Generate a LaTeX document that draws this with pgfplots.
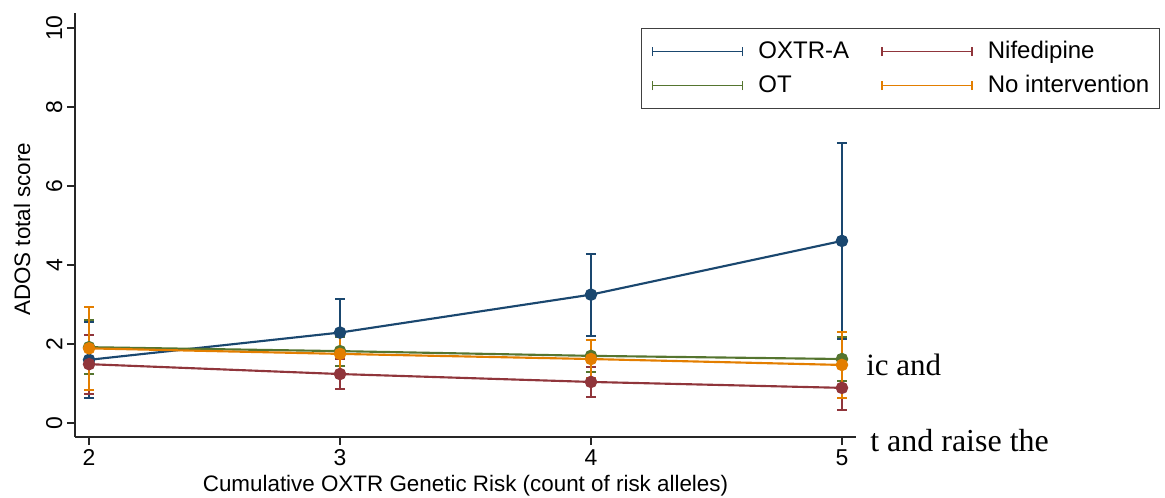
\documentclass[border=0pt]{standalone}
\usepackage{fontspec}
\setmainfont{Liberation Sans}
\newfontfamily\timesfont{Liberation Serif}
\usepackage{pgfplots}
\pgfplotsset{compat=1.18}
\definecolor{stnavy}{RGB}{26,71,111}
\definecolor{stmaroon}{RGB}{144,53,59}
\definecolor{stforest}{RGB}{85,117,47}
\definecolor{storange}{RGB}{227,126,0}
\pgfplotsset{
  stser/.style={color=#1, line width=1.6pt, mark=*, mark size=4.2pt,
    mark options={solid, fill=#1, draw=#1, line width=1pt},
    error bars/.cd, y dir=both, y explicit,
    error bar style={line width=1.5pt, color=#1},
    error mark options={rotate=90, mark size=3.75pt, line width=1.5pt, color=#1}},
}
\begin{document}
\begin{tikzpicture}
\useasboundingbox (0,0) rectangle (873.75pt,372.75pt);
\begin{axis}[
  at={(56.25pt,45pt)}, anchor=south west,
  width=585.75pt, height=318pt, scale only axis,
  xmin=1.944, xmax=5.056, ymin=-0.354, ymax=10.38,
  axis x line=bottom, axis y line=left,
  axis line style={-, line width=1.1pt, color=black!85},
  xtick={2,3,4,5}, ytick={0,2,4,6,8,10},
  tick align=outside, major tick length=6pt,
  tick style={line width=0.9pt, color=black!85},
  /pgf/number format/assume math mode=true,
  ticklabel style={font=\fontsize{17.2}{20}\selectfont},
  yticklabel style={rotate=90, anchor=south},
  xlabel={Cumulative OXTR Genetic Risk (count of risk alleles)},
  ylabel={ADOS total score},
  label style={font=\fontsize{16.8}{20}\selectfont},
  xlabel style={at={(axis description cs:0.5,-0.1297)}, anchor=base},
  ylabel style={at={(axis description cs:-0.0576,0.49)}, anchor=base},
  clip=false,
  legend columns=2,
  legend cell align=left,
  legend style={at={(axis description cs:1.389,0.9646)}, anchor=north east,
    draw=black!75, line width=0.8pt, font=\fontsize{18}{21}\selectfont,
    inner xsep=7.5pt, inner ysep=9.25pt,
    nodes={inner xsep=0pt, inner ysep=0pt, text height=13pt, text depth=3pt},
    row sep=9.5pt,
    /tikz/every odd column/.append style={column sep=11.25pt},
    /tikz/every even column/.append style={column sep=24pt}},
  legend image code/.code={
    \draw[#1, line width=1.3pt] (0pt,0pt) -- (67.5pt,0pt);
    \draw[#1, line width=1.3pt] (0pt,-3.4pt) -- (0pt,3.4pt);
    \draw[#1, line width=1.3pt] (67.5pt,-3.4pt) -- (67.5pt,3.4pt);
  },
]
\addplot[stser=stnavy] table[x=x, y=y, y error=e] {
x y e
2 1.60 0.97
3 2.29 0.85
4 3.25 1.04
5 4.61 2.48
};
\addlegendentry{OXTR-A}
\addplot[stser=stmaroon] table[x=x, y=y, y error=e] {
x y e
2 1.49 0.75
3 1.24 0.38
4 1.04 0.38
5 0.89 0.56
};
\addlegendentry{Nifedipine}
\addplot[stser=stforest] table[x=x, y=y, y error=e] {
x y e
2 1.92 0.69
3 1.82 0.37
4 1.70 0.41
5 1.62 0.56
};
\addlegendentry{OT}
\addplot[stser=storange] table[x=x, y=y, y error=e] {
x y e
2 1.89 1.05
3 1.75 0.45
4 1.62 0.48
5 1.47 0.83
};
\addlegendentry{No intervention}
\end{axis}
\node[anchor=base west, inner sep=0pt, font=\timesfont\fontsize{23.25}{28}\selectfont] at (649.5pt,91.5pt) {ic and};
\node[anchor=base west, inner sep=0pt, font=\timesfont\fontsize{24}{28}\selectfont] at (652.5pt,34.5pt) {t and raise the};
\end{tikzpicture}
\end{document}
